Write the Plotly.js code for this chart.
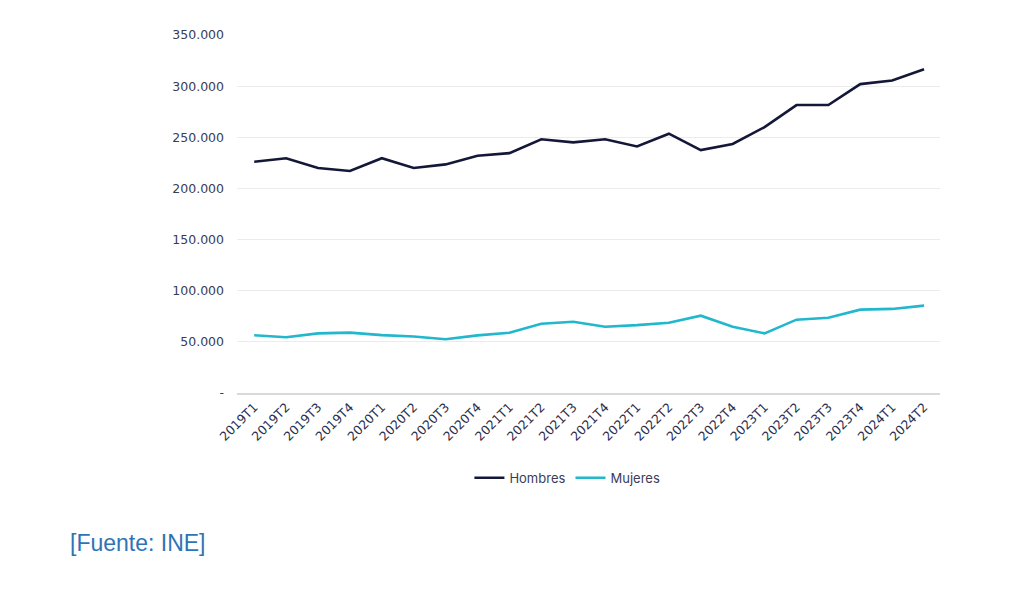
<!DOCTYPE html>
<html>
<head>
<meta charset="utf-8">
<script src="https://cdn.plot.ly/plotly-3.0.1.min.js"></script>
<style>
  html, body { margin: 0; padding: 0; background: #fff; }
  #chart { width: 1024px; height: 590px; }
</style>
</head>
<body>
<div id="chart"></div>
<script>
const quarters = ['2019T1', '2019T2', '2019T3', '2019T4', '2020T1', '2020T2', '2020T3', '2020T4',
    '2021T1', '2021T2', '2021T3', '2021T4', '2022T1', '2022T2', '2022T3', '2022T4',
    '2023T1', '2023T2', '2023T3', '2023T4', '2024T1', '2024T2'];
const hombres = [226000, 229500, 220000, 217000, 229500, 220000, 223500, 232000,
    234500, 248000, 245000, 248000, 241000, 253500, 237500, 243500,
    260000, 281500, 281500, 302000, 305500, 316500];
const mujeres = [56500, 54500, 58300, 59000, 56600, 55300, 52500, 56300,
    58900, 67700, 69700, 64800, 66400, 68700, 75600, 64800,
    58300, 71700, 73600, 81500, 82200, 85400];
const yTickVals = [0, 50000, 100000, 150000, 200000, 250000, 300000, 350000];
const yTickText = ['-', '50.000', '100.000', '150.000', '200.000', '250.000', '300.000', '350.000'];

const labelColor = '#3a3d58';

const traces = [
    {
        x: quarters, y: hombres, name: 'Hombres',
        type: 'scatter', mode: 'lines',
        line: { color: '#141838', width: 2.6 }
    },
    {
        x: quarters, y: mujeres, name: 'Mujeres',
        type: 'scatter', mode: 'lines',
        line: { color: '#21b7cc', width: 2.6 }
    }
];

const layout = {
    width: 1024, height: 590,
    margin: { l: 237, r: 84, t: 35, b: 197 },
    paper_bgcolor: '#fff', plot_bgcolor: '#fff',
    showlegend: true,
    legend: {
        orientation: 'h', x: 0.47, xanchor: 'center', y: -0.237, yanchor: 'middle',
        font: { family: 'Inter, Roboto, sans-serif', size: 13, color: labelColor },
        itemwidth: 30
    },
    xaxis: {
        type: 'category',
        range: [-0.54, 21.5],
        tickangle: -45,
        showgrid: false,
        showline: true, linecolor: '#d9d9d9', linewidth: 2,
        ticks: '',
        tickfont: { family: 'DejaVu Sans, sans-serif', size: 12.5, color: '#2c2f4c' }
    },
    yaxis: {
        range: [0, 350000],
        tickvals: yTickVals, ticktext: yTickText,
        showgrid: true, gridcolor: '#ececec', gridwidth: 1,
        zeroline: false, showline: false, ticks: '',
        ticklabelstandoff: 12,
        tickfont: { family: 'DejaVu Sans, sans-serif', size: 12.5, color: labelColor }
    },
    annotations: [
        {
            text: '[Fuente: INE]', xref: 'paper', yref: 'paper',
            x: -0.24, xanchor: 'left', y: -0.418, yanchor: 'middle',
            showarrow: false,
            font: { family: 'Liberation Sans Narrow, Liberation Sans, sans-serif', size: 23, color: '#2e74b5' }
        }
    ]
};

Plotly.newPlot('chart', traces, layout, { displayModeBar: false, staticPlot: true });
</script>
</body>
</html>
